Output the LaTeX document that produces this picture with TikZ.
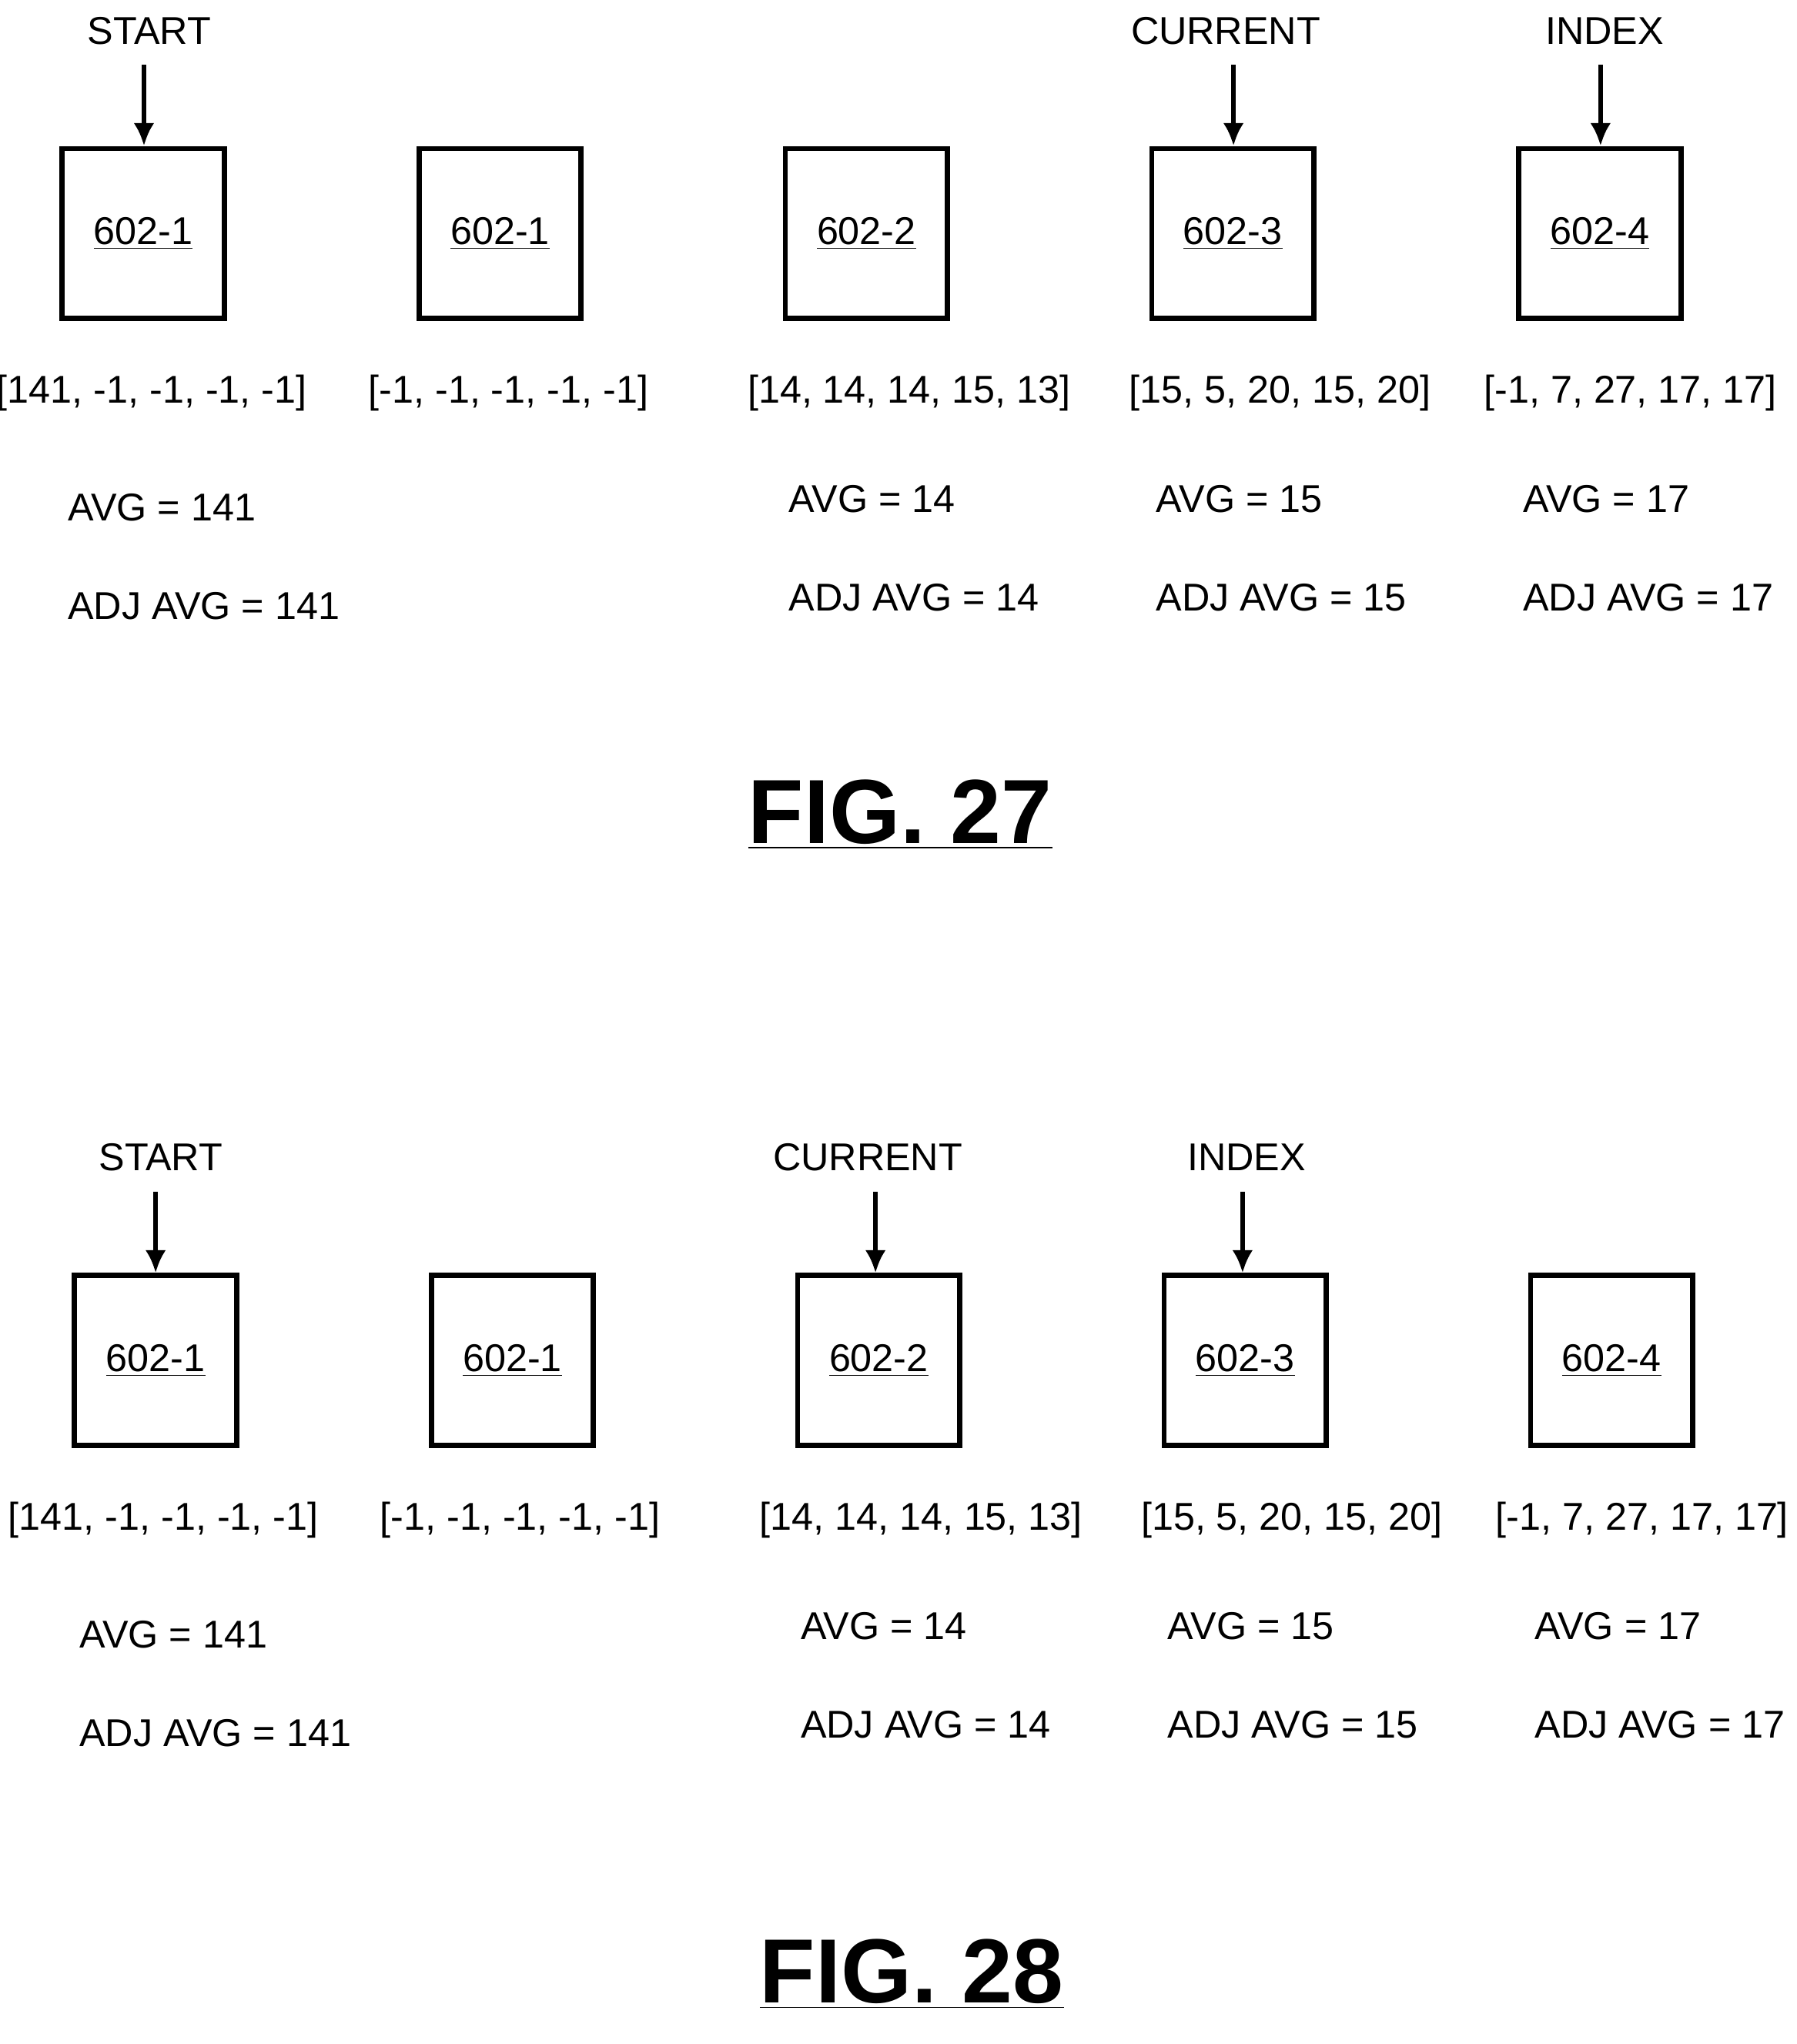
\documentclass[tikz,border=0pt]{standalone}
\usepackage{fontspec}
\setmainfont{Liberation Sans}
\usetikzlibrary{arrows.meta}
\begin{document}
\begin{tikzpicture}[x=0.02cm,y=-0.02cm,
 box/.style={draw,line width=2.3pt,minimum width=2.5cm,minimum height=2.62cm,inner sep=0pt,font=\fontsize{17}{20}\selectfont},
 txt/.style={font=\fontsize{17}{20}\selectfont,inner sep=0pt},
 lft/.style={txt,anchor=west},
 arr/.style={line width=1.8pt,-{Latex[length=10pt,width=9pt]}},
 fig/.style={font=\bfseries\fontsize{40}{44}\selectfont,inner sep=0pt}]
\useasboundingbox (0,0) rectangle (1385,1576);
% FIG 27
\node[box] (a1) at (110.5,180) {\underline{602-1}};
\node[box] (a2) at (385.5,180) {\underline{602-1}};
\node[box] (a3) at (668,180) {\underline{602-2}};
\node[box] (a4) at (950.5,180) {\underline{602-3}};
\node[box] (a5) at (1233.5,180) {\underline{602-4}};
\node[txt] (sa) at (115,24) {START};
\node[txt] (ca) at (945,24) {CURRENT};
\node[txt] (ia) at (1237,24) {INDEX};
\coordinate (sat) at (111,50); \coordinate (cat) at (951,50); \coordinate (iat) at (1234,50);
\draw[arr] (sat) -- (sat|-a1.north);
\draw[arr] (cat) -- (cat|-a4.north);
\draw[arr] (iat) -- (iat|-a5.north);
\node[txt] (la1) at (117,303) {[141, -1, -1, -1, -1]};
\node[txt] (la2) at (392,303) {[-1, -1, -1, -1, -1]};
\node[txt] (la3) at (701,303) {[14, 14, 14, 15, 13]};
\node[txt] (la4) at (987,303) {[15, 5, 20, 15, 20]};
\node[txt] (la5) at (1257,303) {[-1, 7, 27, 17, 17]};
\node[lft] (va1) at (52,391) {AVG = 141};
\node[lft] (ja1) at (52,467) {ADJ AVG = 141};
\node[lft] (va3) at (608,385) {AVG = 14};
\node[lft] (ja3) at (608,461) {ADJ AVG = 14};
\node[lft] (va4) at (891,385) {AVG = 15};
\node[lft] (ja4) at (891,461) {ADJ AVG = 15};
\node[lft] (va5) at (1174,385) {AVG = 17};
\node[lft] (ja5) at (1174,461) {ADJ AVG = 17};
\node[fig] (f27) at (694,628) {\underline{FIG. 27}};
% FIG 28
\node[box] (b1) at (120,1049) {\underline{602-1}};
\node[box] (b2) at (395,1049) {\underline{602-1}};
\node[box] (b3) at (677.5,1049) {\underline{602-2}};
\node[box] (b4) at (960,1049) {\underline{602-3}};
\node[box] (b5) at (1242.5,1049) {\underline{602-4}};
\node[txt] (sb) at (124,892) {START};
\node[txt] (cb) at (669,892) {CURRENT};
\node[txt] (ib) at (961,892) {INDEX};
\coordinate (sbt) at (120,919); \coordinate (cbt) at (675,919); \coordinate (ibt) at (958,919);
\draw[arr] (sbt) -- (sbt|-b1.north);
\draw[arr] (cbt) -- (cbt|-b3.north);
\draw[arr] (ibt) -- (ibt|-b4.north);
\node[txt] (lb1) at (126,1172) {[141, -1, -1, -1, -1]};
\node[txt] (lb2) at (401,1172) {[-1, -1, -1, -1, -1]};
\node[txt] (lb3) at (710,1172) {[14, 14, 14, 15, 13]};
\node[txt] (lb4) at (996,1172) {[15, 5, 20, 15, 20]};
\node[txt] (lb5) at (1266,1172) {[-1, 7, 27, 17, 17]};
\node[lft] (vb1) at (61,1260) {AVG = 141};
\node[lft] (jb1) at (61,1336) {ADJ AVG = 141};
\node[lft] (vb3) at (617,1254) {AVG = 14};
\node[lft] (jb3) at (617,1330) {ADJ AVG = 14};
\node[lft] (vb4) at (900,1254) {AVG = 15};
\node[lft] (jb4) at (900,1330) {ADJ AVG = 15};
\node[lft] (vb5) at (1183,1254) {AVG = 17};
\node[lft] (jb5) at (1183,1330) {ADJ AVG = 17};
\node[fig] (f28) at (703,1522) {\underline{FIG. 28}};
\end{tikzpicture}
\end{document}
